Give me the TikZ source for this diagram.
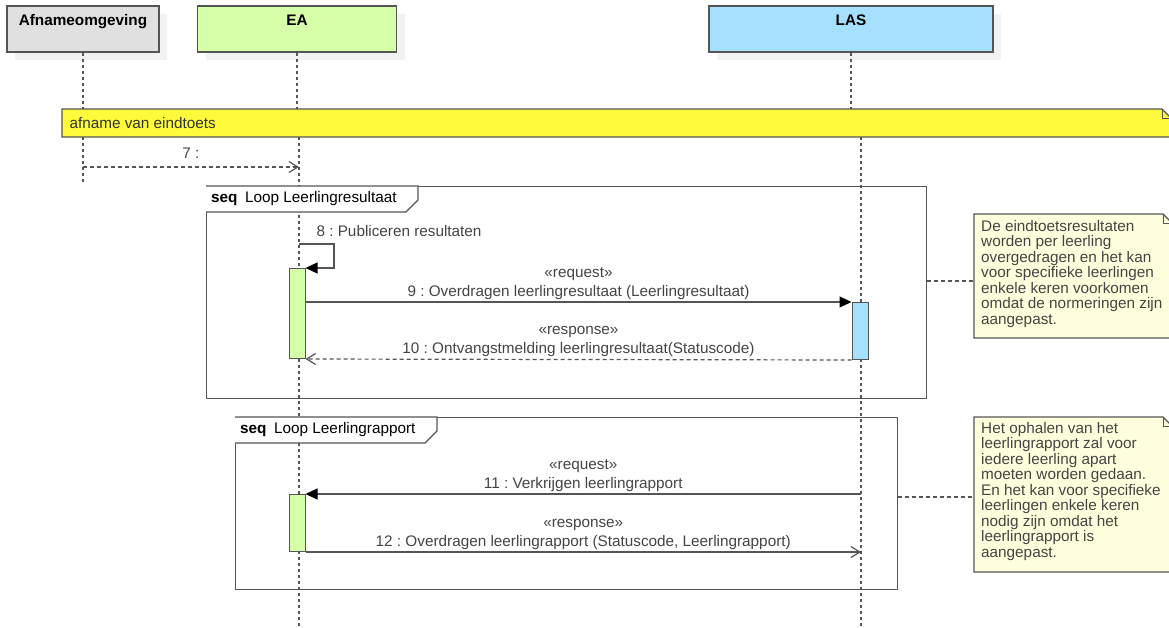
\documentclass[tikz,border=0pt]{standalone}
\usepackage{fontspec}
\setmainfont{Liberation Sans}
\usetikzlibrary{arrows.meta,positioning,shadows}
\definecolor{headgray}{HTML}{E0E0E0}
\definecolor{eagreen}{HTML}{D4FFA8}
\definecolor{lasblue}{HTML}{A6E0FF}
\definecolor{fragyellow}{HTML}{FFFB3C}
\definecolor{notefill}{HTML}{FFFFDD}
\definecolor{linegray}{HTML}{555555}
\definecolor{textgray}{HTML}{444444}
\frenchspacing

\begin{document}
\begin{tikzpicture}[x=1pt,y=-1pt,
  font=\fontsize{15.3}{15.5}\selectfont,
  head/.style={draw=linegray, line width=1.2pt, minimum height=46pt, inner sep=0pt,
    drop shadow={shadow xshift=8pt, shadow yshift=-8pt, fill=black!5, opacity=1}},
  headlabel/.style={font=\fontsize{15.3}{15.5}\selectfont\bfseries, text height=11pt, text depth=3pt, inner sep=0pt},
  lifeline/.style={linegray, line width=1.3pt, dash pattern=on 3pt off 3pt},
  act/.style={draw=linegray, line width=1pt, minimum width=16pt, inner sep=0pt},
  msg/.style={linegray, line width=1.2pt},
  reply/.style={msg, dash pattern=on 4pt off 3pt},
  sync/.style={-{Triangle[length=12pt,width=11pt,color=black]}},
  openhead/.style={-{Straight Barb[length=9pt,width=11pt]}},
  msglabel/.style={text=textgray, align=center, font=\fontsize{15.3}{19}\selectfont, inner sep=2pt},
  frame/.style={draw=linegray, line width=1.3pt},
  notetext/.style={text=textgray, align=left, anchor=north west, inner sep=0pt}]

\useasboundingbox (0,0) rectangle (1169,627);
\clip (0,0) rectangle (1169,627);

\node[head, fill=headgray, minimum width=152pt] (afname) at (83,29) {};
\node[headlabel] (afnamelbl) at ([yshift=-16pt]afname.north) {Afnameomgeving};
\node[head, fill=eagreen, minimum width=199pt] (ea) at (297,29) {};
\node[headlabel] (ealbl) at ([yshift=-16pt]ea.north) {EA};
\node[head, fill=lasblue, minimum width=284pt] (las) at (851,29) {};
\node[headlabel] (laslbl) at ([yshift=-16pt]las.north) {LAS};

\coordinate (afnlow) at (83,137);
\coordinate (ealow) at (299,137);
\coordinate (laslow) at (861,137);
\draw[lifeline] (afname.south) -- ++(0,57);
\draw[lifeline] (afnlow) -- (83,182);
\draw[lifeline] (ea.south) -- ++(0,57);
\draw[lifeline] (ealow) -- (299,627);
\draw[lifeline] (las.south) -- ++(0,57);
\draw[lifeline] (laslow) -- (861,627);

\fill[fragyellow] (62,109) -- (1162,109) -- (1171,118) -- (1171,137) -- (62,137) -- cycle;
\draw[frame] (62,109) -- (1162,109) -- (1171,118) -- (1171,137) -- (62,137) -- cycle;
\draw[frame, line width=1pt] (1162,109) -- (1162,118) -- (1171,118);
\node[anchor=west, text=black!80] (fragtxt) at (66,123) {afname van eindtoets};

\coordinate (m7s) at (83,167);
\draw[reply, openhead] (m7s) -- (m7s -| ealow)
  node[msglabel, midway, above=6pt] (m7lbl) {7 :};

\node[frame, minimum width=720pt, minimum height=212pt, anchor=north west] (loopA) at (206,186) {};
\draw[frame, fill=white] (206,186) -- (418,186) -- (418,200) -- (406,212) -- (206,212);
\node[anchor=west, inner sep=0pt] (loopAlbl) at (211,199) {\textbf{seq}\enspace Loop Leerlingresultaat};

\node[frame, minimum width=662pt, minimum height=172pt, anchor=north west] (loopB) at (235,417) {};
\draw[frame, fill=white] (235,417) -- (437,417) -- (437,431) -- (425,443) -- (235,443);
\node[anchor=west, inner sep=0pt] (loopBlbl) at (240,430) {\textbf{seq}\enspace Loop Leerlingrapport};

\node[act, fill=eagreen, minimum height=90pt, anchor=north] (eaActA) at (297,268) {};
\node[act, fill=lasblue, minimum height=57pt, anchor=north] (lasAct) at (860,302) {};
\node[act, fill=eagreen, minimum height=57pt, anchor=north] (eaActB) at (297,494) {};

\coordinate (s8) at (299,244);
\draw[msg, sync] (s8) -- ++(35,0) -- ++(0,24) -- (eaActA.north east);
\node[anchor=west, text=textgray] (m8lbl) at (313,231) {8 : Publiceren resultaten};

\draw[msg, sync] (eaActA.east |- lasAct.north) -- (lasAct.north west)
  node[msglabel, midway, above] (m9lbl) {«request»\\9 : Overdragen leerlingresultaat (Leerlingresultaat)};
\draw[reply, openhead] (lasAct.south west) -- (eaActA.south east)
  node[msglabel, midway, above] (m10lbl) {«response»\\10 : Ontvangstmelding leerlingresultaat(Statuscode)};

\draw[msg, sync] (laslow |- eaActB.north) -- (eaActB.north east)
  node[msglabel, midway, above] (m11lbl) {«request»\\11 : Verkrijgen leerlingrapport};
\draw[msg, openhead] (eaActB.south east) -- (laslow |- eaActB.south)
  node[msglabel, midway, above] (m12lbl) {«response»\\12 : Overdragen leerlingrapport (Statuscode, Leerlingrapport)};

\fill[notefill] (974,214) -- (1163,214) -- (1172,223) -- (1172,338) -- (974,338) -- cycle;
\draw[frame] (974,214) -- (1163,214) -- (1172,223) -- (1172,338) -- (974,338) -- cycle;
\draw[frame, line width=1pt] (1163,214) -- (1163,223) -- (1172,223);
\node[notetext] (noteA) at (981,220) {De eindtoetsresultaten\\worden per leerling\\overgedragen en het kan\\voor specifieke leerlingen\\enkele keren voorkomen\\omdat de normeringen zijn\\aangepast.};
\coordinate (noteAin) at (974,281);
\draw[reply] (noteAin -| loopA.east) -- (noteAin);

\fill[notefill] (974,417) -- (1163,417) -- (1172,426) -- (1172,572) -- (974,572) -- cycle;
\draw[frame] (974,417) -- (1163,417) -- (1172,426) -- (1172,572) -- (974,572) -- cycle;
\draw[frame, line width=1pt] (1163,417) -- (1163,426) -- (1172,426);
\node[notetext] (noteB) at (981,422) {Het ophalen van het\\leerlingrapport zal voor\\iedere leerling apart\\moeten worden gedaan.\\En het kan voor specifieke\\leerlingen enkele keren\\nodig zijn omdat het\\leerlingrapport is\\aangepast.};
\coordinate (noteBin) at (974,497);
\draw[reply] (noteBin -| loopB.east) -- (noteBin);
\end{tikzpicture}
\end{document}
